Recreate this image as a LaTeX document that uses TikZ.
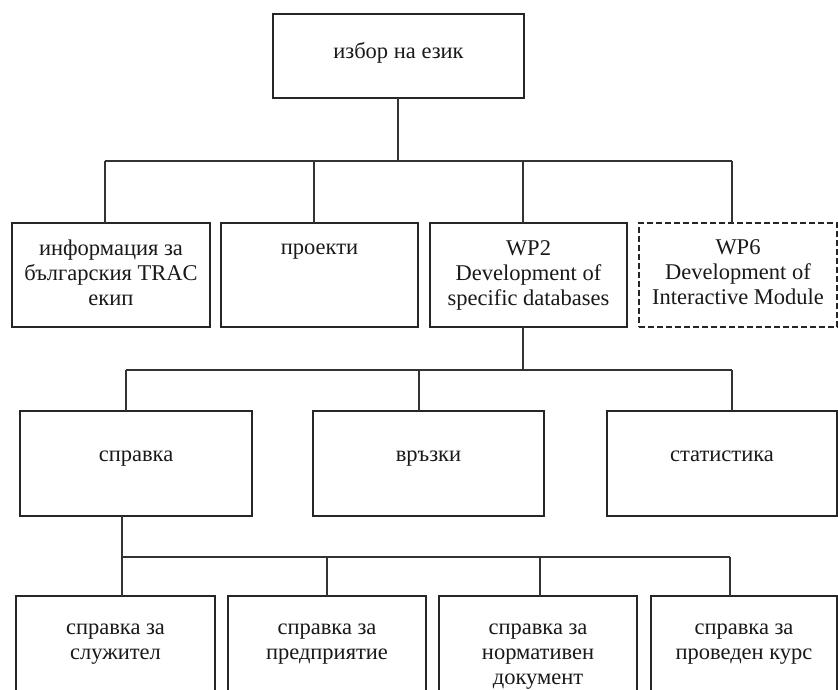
\documentclass[tikz,border=0pt]{standalone}
\usepackage{fontspec}
\setmainfont{Liberation Serif}
\begin{document}
\begin{tikzpicture}[x=1pt,y=-1pt,
  box/.style={draw=black!85,line width=1.3pt,inner sep=0pt,outer sep=0pt,fill=white},
  dbox/.style={box,dash pattern=on 6pt off 3pt,line width=1.2pt},
  wire/.style={draw=black!80,line width=1.2pt},
  lbl/.style={inner sep=0pt,align=center,anchor=north,text=black!90,
    font=\fontsize{22.5}{25}\selectfont}]
\useasboundingbox (0,0) rectangle (838,690);
\fill[white] (0,0) rectangle (838,690);
\clip (0,0) rectangle (838,690);

% ---- boxes ----
\node[box,minimum width=251pt,minimum height=84pt] (lang) at (398.5,56) {};

\node[box,minimum width=198pt,minimum height=104pt] (info) at (111,275) {};
\node[box,minimum width=197pt,minimum height=104pt] (proj) at (319.5,275) {};
\node[box,minimum width=197pt,minimum height=104pt] (wp2) at (528.5,275) {};
\node[dbox,minimum width=198pt,minimum height=104pt] (wp6) at (738,275) {};

\node[box,minimum width=232pt,minimum height=105pt] (spr) at (136,463.5) {};
\node[box,minimum width=231pt,minimum height=105pt] (vrz) at (428.5,463.5) {};
\node[box,minimum width=230pt,minimum height=105pt] (stat) at (722,463.5) {};

\node[box,minimum width=199pt,minimum height=124pt] (emp) at (115.5,658) {};
\node[box,minimum width=198pt,minimum height=124pt] (ent) at (327,658) {};
\node[box,minimum width=198pt,minimum height=124pt] (norm) at (538,658) {};
\node[box,minimum width=186pt,minimum height=124pt] (crs) at (744,658) {};

% ---- labels ----
\node[lbl] (tlang) at (398.5,41) {\strut избор на език};
\node[lbl] (tinfo) at (111,237.5) {\strut информация за\\българския TRAC\\екип};
\node[lbl] (tproj) at (319.5,236.5) {\strut проекти};
\node[lbl] (twp2) at (528.5,237.5) {\strut WP2\\Development of\\specific databases};
\node[lbl] (twp6) at (738,236.5) {\strut WP6\\Development of\\Interactive Module};
\node[lbl] (tspr) at (136,444) {\strut справка};
\node[lbl] (tvrz) at (428.5,444) {\strut връзки};
\node[lbl] (tstat) at (722,444) {\strut статистика};
\node[lbl] (temp) at (115.5,617) {\strut справка за\\служител};
\node[lbl] (tent) at (327,617) {\strut справка за\\предприятие};
\node[lbl] (tnorm) at (538,617) {\strut справка за\\нормативен\\документ};
\node[lbl] (tcrs) at (744,617) {\strut справка за\\проведен курс};

% ---- level 1 bus ----
\coordinate (j1) at (398,161);
\coordinate (t11) at (105,161);
\coordinate (t12) at (314,161);
\coordinate (t13) at (523,161);
\coordinate (t14) at (732,161);
\draw[wire] (j1 |- lang.south) -- (j1);
\draw[wire] (t11) -- (t14);
\draw[wire] (t11) -- (t11 |- info.north);
\draw[wire] (t12) -- (t12 |- proj.north);
\draw[wire] (t13) -- (t13 |- wp2.north);
\draw[wire] (t14) -- (t14 |- wp6.north);

% ---- level 2 bus ----
\coordinate (j2) at (523,370);
\coordinate (t21) at (126,370);
\coordinate (t22) at (419,370);
\coordinate (t23) at (732,370);
\draw[wire] (j2 |- wp2.south) -- (j2);
\draw[wire] (t21) -- (t23);
\draw[wire] (t21) -- (t21 |- spr.north);
\draw[wire] (t22) -- (t22 |- vrz.north);
\draw[wire] (t23) -- (t23 |- stat.north);

% ---- level 3 bus ----
\coordinate (t31) at (122,557);
\coordinate (t32) at (327,557);
\coordinate (t33) at (540,557);
\coordinate (t34) at (730,557);
\draw[wire] (t31 |- spr.south) -- (t31);
\draw[wire] (t31) -- (t34);
\draw[wire] (t31) -- (t31 |- emp.north);
\draw[wire] (t32) -- (t32 |- ent.north);
\draw[wire] (t33) -- (t33 |- norm.north);
\draw[wire] (t34) -- (t34 |- crs.north);
\end{tikzpicture}
\end{document}
